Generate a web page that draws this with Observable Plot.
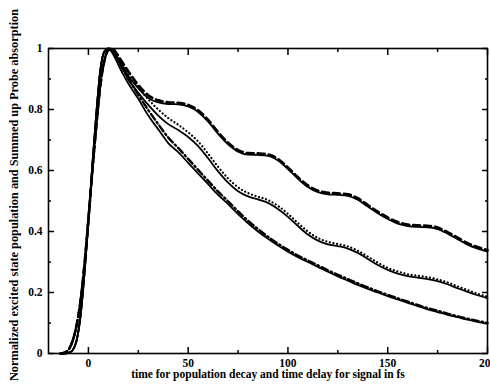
<!DOCTYPE html>
<html>
<head>
<meta charset="utf-8">
<script src="https://cdn.jsdelivr.net/npm/d3@7"></script>
<script src="https://cdn.jsdelivr.net/npm/@observablehq/plot@0.6"></script>
<style>
  html, body { margin: 0; padding: 0; background: #fff; }
  #chart { width: 490px; height: 389px; overflow: hidden; }
</style>
</head>
<body>
<div id="chart"></div>
<script>
// time axis (fs)
const xRise = [-14, -12, -10, -8, -6, -4, -2, 0, 2, 4, 6, 8, 10];
const xDecay = [12, 14, 17, 20, 25, 30, 35, 40, 45, 50, 55, 60, 65, 70, 75, 80, 85, 90, 95, 100,
  105, 110, 115, 120, 125, 130, 135, 140, 145, 150, 155, 160, 165, 170, 175, 180, 185, 190, 195, 200];

// rising edges
const riseSolid  = [0, 0, 0.002, 0.01, 0.04, 0.12, 0.26, 0.43, 0.62, 0.79, 0.93, 0.99, 1.0];
const riseBroken = [0, 0.003, 0.012, 0.04, 0.09, 0.17, 0.29, 0.44, 0.6, 0.75, 0.88, 0.96, 0.995];

// decays
const topSolid = [0.99, 0.975, 0.945, 0.91, 0.87, 0.838, 0.823, 0.818, 0.817, 0.81, 0.792, 0.76, 0.72, 0.686, 0.662, 0.652, 0.651, 0.648, 0.633, 0.605,
  0.573, 0.546, 0.529, 0.522, 0.52, 0.517, 0.504, 0.482, 0.46, 0.441, 0.426, 0.418, 0.415, 0.414, 0.408, 0.393, 0.375, 0.357, 0.344, 0.334];
const topDashed = [1.0, 0.985, 0.955, 0.925, 0.88, 0.847, 0.83, 0.824, 0.822, 0.815, 0.797, 0.766, 0.726, 0.691, 0.667, 0.657, 0.656, 0.653, 0.638, 0.61,
  0.578, 0.551, 0.534, 0.527, 0.525, 0.522, 0.509, 0.487, 0.465, 0.446, 0.431, 0.423, 0.42, 0.419, 0.413, 0.398, 0.38, 0.362, 0.349, 0.339];
const midSolid = [0.99, 0.97, 0.935, 0.9, 0.855, 0.815, 0.78, 0.752, 0.733, 0.71, 0.68, 0.64, 0.597, 0.56, 0.532, 0.515, 0.505, 0.494, 0.474, 0.448,
  0.418, 0.39, 0.37, 0.358, 0.352, 0.344, 0.33, 0.31, 0.29, 0.274, 0.262, 0.254, 0.249, 0.244, 0.237, 0.227, 0.214, 0.202, 0.191, 0.181];
const midDotted = [1.0, 0.985, 0.95, 0.915, 0.872, 0.833, 0.8, 0.772, 0.75, 0.725, 0.695, 0.655, 0.612, 0.574, 0.545, 0.526, 0.514, 0.503, 0.484, 0.458,
  0.428, 0.4, 0.379, 0.366, 0.359, 0.351, 0.337, 0.318, 0.298, 0.281, 0.269, 0.26, 0.255, 0.25, 0.243, 0.233, 0.22, 0.208, 0.196, 0.186];
const lowSolid = [0.985, 0.96, 0.92, 0.885, 0.835, 0.78, 0.735, 0.69, 0.66, 0.625, 0.59, 0.555, 0.52, 0.49, 0.457, 0.427, 0.4, 0.376, 0.354, 0.334,
  0.316, 0.3, 0.284, 0.268, 0.253, 0.239, 0.225, 0.212, 0.2, 0.188, 0.177, 0.166, 0.155, 0.145, 0.136, 0.127, 0.119, 0.111, 0.104, 0.097];
const lowDashDot = [0.995, 0.975, 0.935, 0.9, 0.848, 0.798, 0.752, 0.708, 0.674, 0.638, 0.602, 0.566, 0.531, 0.499, 0.466, 0.435, 0.408, 0.383, 0.36, 0.34,
  0.321, 0.305, 0.289, 0.273, 0.258, 0.244, 0.23, 0.217, 0.204, 0.192, 0.181, 0.17, 0.159, 0.149, 0.14, 0.131, 0.122, 0.114, 0.107, 0.1];

const xTicksMajor = [0, 50, 100, 150, 200];
const xTicksMinor = [25, 75, 125, 175];
const xTickLabels = ["0", "50", "100", "150", "200"];
const yTicksMajor = [0, 0.2, 0.4, 0.6, 0.8, 1];
const yTicksMinor = [0.1, 0.3, 0.5, 0.7, 0.9];
const yTickLabels = ["0", "0.2", "0.4", "0.6", "0.8", "1"];
const xTitle = "time for population decay and time delay for signal in fs";
const yTitle = "Normalized excited state population and Summed up Probe absorption";

function series(name, rise, decay) {
  const xs = xRise.concat(xDecay), ys = rise.concat(decay);
  return xs.map((x, i) => ({name, x, y: ys[i]}));
}
const sTop = series("top", riseSolid, topSolid);
const sTopD = series("topD", riseBroken, topDashed);
const sMid = series("mid", riseSolid, midSolid);
const sMidD = series("midD", riseBroken, midDotted);
const sLow = series("low", riseSolid, lowSolid);
const sLowD = series("lowD", riseBroken, lowDashDot);

const W = 490, H = 389, mt = 48, mb = 36, ml = 48, mr = 3;
const major = 6, minor = 3;
const blank = () => "";

function inwardTicks(ticks, len) {
  return [
    Plot.axisX({anchor: "bottom", ticks, tickSize: len, dy: -len, tickFormat: blank, label: null, strokeWidth: 1.5}),
    Plot.axisX({anchor: "top", ticks, tickSize: len, dy: len, tickFormat: blank, label: null, strokeWidth: 1.5})
  ];
}
function inwardTicksY(ticks, len) {
  return [
    Plot.axisY({anchor: "left", ticks, tickSize: len, dx: len, tickFormat: blank, label: null, strokeWidth: 1.5}),
    Plot.axisY({anchor: "right", ticks, tickSize: len, dx: -len, tickFormat: blank, label: null, strokeWidth: 1.5})
  ];
}

const chart = Plot.plot({
  width: W, height: H,
  marginTop: mt, marginBottom: mb, marginLeft: ml, marginRight: mr,
  style: {fontFamily: "'Liberation Serif', 'DejaVu Serif', serif", fontWeight: "bold", fontSize: "12px", background: "#fff", color: "#000", overflow: "visible"},
  x: {domain: [-20, 200]},
  y: {domain: [0, 1]},
  marks: [
    // curves
    Plot.line(sLow, {x: "x", y: "y", stroke: "#000", strokeWidth: 1.8, curve: "monotone-x"}),
    Plot.line(sMid, {x: "x", y: "y", stroke: "#000", strokeWidth: 1.8, curve: "monotone-x"}),
    Plot.line(sTop, {x: "x", y: "y", stroke: "#000", strokeWidth: 1.8, curve: "monotone-x"}),
    Plot.line(sTopD, {x: "x", y: "y", stroke: "#000", strokeWidth: 2.6, strokeDasharray: "7,4", curve: "monotone-x"}),
    Plot.line(sMidD, {x: "x", y: "y", stroke: "#000", strokeWidth: 2.2, strokeDasharray: "0.1,3.6", strokeLinecap: "round", curve: "monotone-x"}),
    Plot.line(sLowD, {x: "x", y: "y", stroke: "#000", strokeWidth: 2.4, strokeDasharray: "7,3,1.5,3", curve: "monotone-x"}),
    // inward ticks on all four sides
    ...inwardTicks(xTicksMajor, major),
    ...inwardTicks(xTicksMinor, minor),
    ...inwardTicksY(yTicksMajor, major),
    ...inwardTicksY(yTicksMinor, minor),
    Plot.frame({stroke: "#000", strokeWidth: 1.6}),
    // tick labels and titles
    Plot.axisX({ticks: xTicksMajor, tickSize: 0, tickPadding: 5, tickFormat: d => xTickLabels[xTicksMajor.indexOf(d)],
      label: xTitle, labelAnchor: "center", labelOffset: 24, labelArrow: "none", fontSize: 11.5}),
    Plot.axisY({ticks: yTicksMajor, tickSize: 0, tickPadding: 6, tickFormat: d => yTickLabels[yTicksMajor.indexOf(d)], label: null, fontSize: 11.5}),
    Plot.text([yTitle], {frameAnchor: "left", text: d => d, rotate: -90, textAnchor: "middle", dx: -34, dy: -6, fontSize: 12.3, fill: "#000"})
  ]
});
document.getElementById("chart").appendChild(chart);
</script>
</body>
</html>
